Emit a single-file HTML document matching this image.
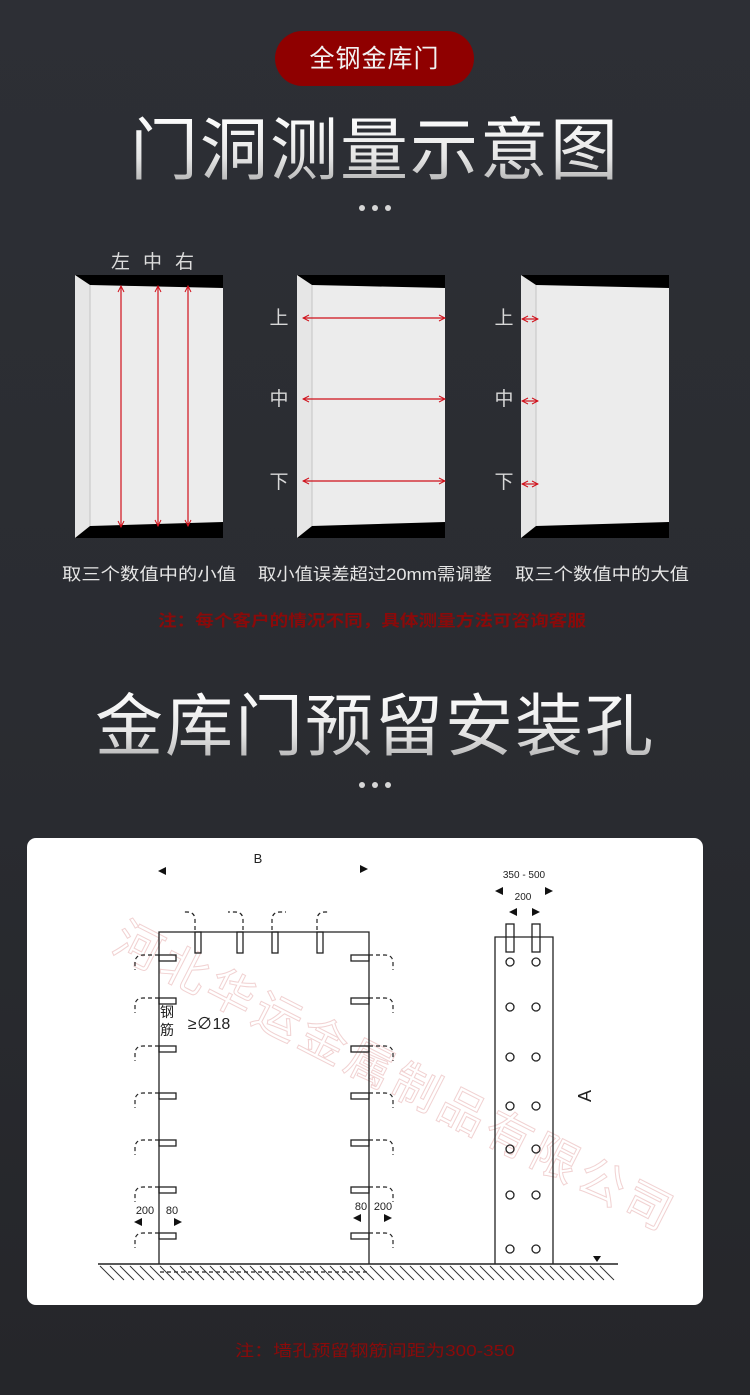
<!DOCTYPE html>
<html><head><meta charset="utf-8"><style>
html,body{margin:0;padding:0;width:750px;height:1395px;overflow:hidden;background:#2b2d33;}
svg{display:block;}
text{font-family:"Liberation Sans","Noto Sans CJK SC",sans-serif;}
</style></head><body>
<svg width="750" height="1395" viewBox="0 0 750 1395" xmlns="http://www.w3.org/2000/svg">
<defs>
<linearGradient id="bg" x1="0" y1="0" x2="0" y2="1"><stop offset="0" stop-color="#2d2f35"/><stop offset="0.5" stop-color="#2a2c31"/><stop offset="1" stop-color="#25262a"/></linearGradient>
<linearGradient id="tg" x1="0" y1="0" x2="0" y2="1"><stop offset="0" stop-color="#ffffff"/><stop offset="0.6" stop-color="#e4e4e4"/><stop offset="1" stop-color="#a9a9a9"/></linearGradient>
<g id="panel">
<rect x="0" y="0" width="148" height="263" fill="#ececec"/>
<polygon points="0,0 15,10 15,251 0,263" fill="#e6e6e6"/>
<line x1="15" y1="10" x2="15" y2="251" stroke="#c4c4c4" stroke-width="1"/>
<polygon points="0,0 148,0 148,13 60,11 15,10" fill="#000"/>
<polygon points="0,263 15,251 148,247 148,263" fill="#000"/>
</g>
<marker id="ah" markerWidth="8" markerHeight="8" refX="7" refY="4" orient="auto-start-reverse" markerUnits="userSpaceOnUse"><path d="M1,1 L7,4 L1,7" fill="none" stroke="#d0101a" stroke-width="1"/></marker>
</defs>
<rect width="750" height="1395" fill="url(#bg)"/>
<rect x="275" y="31" width="199" height="55" rx="27.5" fill="#8f0000"/>
<text x="374.5" y="67" font-size="25" fill="#f2f2f2" text-anchor="middle" letter-spacing="1">全钢金库门</text>
<text x="375" y="174" font-size="68" fill="url(#tg)" text-anchor="middle" letter-spacing="2">门洞测量示意图</text>
<g fill="#d6d6d6"><circle cx="362" cy="208" r="3"/><circle cx="375" cy="208" r="3"/><circle cx="388" cy="208" r="3"/></g>
<text x="159" y="268" font-size="19" fill="#dcdcdc" text-anchor="middle" letter-spacing="13">左中右</text>
<use href="#panel" x="75" y="275"/>
<use href="#panel" x="297" y="275"/>
<use href="#panel" x="521" y="275"/>
<g stroke="#d0101a" stroke-width="1.2" fill="none">
<line x1="121" y1="286" x2="121" y2="527" marker-start="url(#ah)" marker-end="url(#ah)"/>
<line x1="158" y1="286" x2="158" y2="526" marker-start="url(#ah)" marker-end="url(#ah)"/>
<line x1="188" y1="286" x2="188" y2="526" marker-start="url(#ah)" marker-end="url(#ah)"/>
<line x1="303" y1="318" x2="445" y2="318" marker-start="url(#ah)" marker-end="url(#ah)"/>
<line x1="303" y1="399" x2="445" y2="399" marker-start="url(#ah)" marker-end="url(#ah)"/>
<line x1="303" y1="481" x2="445" y2="481" marker-start="url(#ah)" marker-end="url(#ah)"/>
<line x1="522" y1="319" x2="538" y2="319" marker-start="url(#ah)" marker-end="url(#ah)"/>
<line x1="522" y1="401" x2="538" y2="401" marker-start="url(#ah)" marker-end="url(#ah)"/>
<line x1="522" y1="484" x2="538" y2="484" marker-start="url(#ah)" marker-end="url(#ah)"/>
</g>
<g font-size="19" fill="#d8d8d8" text-anchor="middle">
<text x="279" y="324">上</text><text x="279" y="405">中</text><text x="279" y="488">下</text>
<text x="504" y="324">上</text><text x="504" y="405">中</text><text x="504" y="488">下</text>
</g>
<g font-size="17" fill="#e6e6e6">
<text x="62" y="580" textLength="174" lengthAdjust="spacingAndGlyphs">取三个数值中的小值</text>
<text x="258" y="580" textLength="234" lengthAdjust="spacingAndGlyphs">取小值误差超过20mm需调整</text>
<text x="515" y="580" textLength="174" lengthAdjust="spacingAndGlyphs">取三个数值中的大值</text>
</g>
<text x="158" y="626" font-size="16" fill="#8a0a0a" font-weight="bold" textLength="428" lengthAdjust="spacingAndGlyphs">注：每个客户的情况不同，具体测量方法可咨询客服</text>
<text x="375" y="750" font-size="68" fill="url(#tg)" text-anchor="middle" letter-spacing="2">金库门预留安装孔</text>
<g fill="#d6d6d6"><circle cx="362" cy="785" r="3"/><circle cx="375" cy="785" r="3"/><circle cx="388" cy="785" r="3"/></g>
<rect x="27" y="838" width="676" height="467" rx="9" fill="#ffffff"/>
<text x="110" y="950" font-size="47" fill="none" stroke="#f1d2d2" stroke-width="1" transform="rotate(27 110 950)" letter-spacing="5">河北华运金属制品有限公司</text>
<g stroke="#222" stroke-width="1.3" fill="none">
<polyline points="159,1264 159,932 369,932 369,1264"/>
<rect x="195" y="932" width="6" height="21"/><rect x="237" y="932" width="6" height="21"/><rect x="272" y="932" width="6" height="21"/><rect x="317" y="932" width="6" height="21"/>
<rect x="159" y="955" width="17" height="6"/><rect x="159" y="998" width="17" height="6"/><rect x="159" y="1046" width="17" height="6"/><rect x="159" y="1093" width="17" height="6"/><rect x="159" y="1140" width="17" height="6"/><rect x="159" y="1187" width="17" height="6"/><rect x="159" y="1233" width="17" height="6"/>
<rect x="351" y="955" width="18" height="6"/><rect x="351" y="998" width="18" height="6"/><rect x="351" y="1046" width="18" height="6"/><rect x="351" y="1093" width="18" height="6"/><rect x="351" y="1140" width="18" height="6"/><rect x="351" y="1187" width="18" height="6"/><rect x="351" y="1233" width="18" height="6"/>
</g>
<g stroke="#222" stroke-width="1.2" fill="none" stroke-dasharray="4,3">
<path d="M195,930 V920 Q195,912 187,912 H182"/><path d="M243,930 V920 Q243,912 235,912 H228"/><path d="M272,930 V920 Q272,912 280,912 H286"/><path d="M317,930 V920 Q317,912 325,912 H330"/>
<path d="M159,955 H143 Q135,955 135,963 V970"/><path d="M159,998 H143 Q135,998 135,1006 V1013"/><path d="M159,1046 H143 Q135,1046 135,1054 V1061"/><path d="M159,1093 H143 Q135,1093 135,1101 V1108"/><path d="M159,1140 H143 Q135,1140 135,1148 V1155"/><path d="M159,1187 H143 Q135,1187 135,1195 V1202"/><path d="M159,1233 H143 Q135,1233 135,1241 V1248"/>
<path d="M369,955 H385 Q393,955 393,963 V970"/><path d="M369,998 H385 Q393,998 393,1006 V1013"/><path d="M369,1046 H385 Q393,1046 393,1054 V1061"/><path d="M369,1093 H385 Q393,1093 393,1101 V1108"/><path d="M369,1140 H385 Q393,1140 393,1148 V1155"/><path d="M369,1187 H385 Q393,1187 393,1195 V1202"/><path d="M369,1233 H385 Q393,1233 393,1241 V1248"/>
<line x1="160" y1="1272" x2="368" y2="1272"/>
</g>
<g stroke="#222" stroke-width="1.3" fill="none">
<polyline points="495,1264 495,937 553,937 553,1264"/>
<rect x="506" y="924" width="8" height="28"/><rect x="532" y="924" width="8" height="28"/>
<circle cx="510" cy="962" r="4"/><circle cx="536" cy="962" r="4"/>
<circle cx="510" cy="1007" r="4"/><circle cx="536" cy="1007" r="4"/>
<circle cx="510" cy="1057" r="4"/><circle cx="536" cy="1057" r="4"/>
<circle cx="510" cy="1106" r="4"/><circle cx="536" cy="1106" r="4"/>
<circle cx="510" cy="1149" r="4"/><circle cx="536" cy="1149" r="4"/>
<circle cx="510" cy="1195" r="4"/><circle cx="536" cy="1195" r="4"/>
<circle cx="510" cy="1249" r="4"/><circle cx="536" cy="1249" r="4"/>
<line x1="98" y1="1264" x2="618" y2="1264" stroke-width="1.6"/>
</g>
<g stroke="#333" stroke-width="1">
<path d="M100,1266 l14,14 M110,1266 l14,14 M120,1266 l14,14 M130,1266 l14,14 M140,1266 l14,14 M150,1266 l14,14 M160,1266 l14,14 M170,1266 l14,14 M180,1266 l14,14 M190,1266 l14,14 M200,1266 l14,14 M210,1266 l14,14 M220,1266 l14,14 M230,1266 l14,14 M240,1266 l14,14 M250,1266 l14,14 M260,1266 l14,14 M270,1266 l14,14 M280,1266 l14,14 M290,1266 l14,14 M300,1266 l14,14 M310,1266 l14,14 M320,1266 l14,14 M330,1266 l14,14 M340,1266 l14,14 M350,1266 l14,14 M360,1266 l14,14 M370,1266 l14,14 M380,1266 l14,14 M390,1266 l14,14 M400,1266 l14,14 M410,1266 l14,14 M420,1266 l14,14 M430,1266 l14,14 M440,1266 l14,14 M450,1266 l14,14 M460,1266 l14,14 M470,1266 l14,14 M480,1266 l14,14 M490,1266 l14,14 M500,1266 l14,14 M510,1266 l14,14 M520,1266 l14,14 M530,1266 l14,14 M540,1266 l14,14 M550,1266 l14,14 M560,1266 l14,14 M570,1266 l14,14 M580,1266 l14,14 M590,1266 l14,14 M600,1266 l14,14"/>
</g>
<g fill="#111">
<polygon points="158,871 166,867 166,875"/><polygon points="368,869 360,865 360,873"/>
<polygon points="495,891 503,887 503,895"/><polygon points="553,891 545,887 545,895"/>
<polygon points="509,912 517,908 517,916"/><polygon points="540,912 532,908 532,916"/>
<polygon points="134,1222 142,1218 142,1226"/><polygon points="182,1222 174,1218 174,1226"/>
<polygon points="353,1218 361,1214 361,1222"/><polygon points="392,1218 384,1214 384,1222"/>
<polygon points="593,1256 601,1256 597,1262"/>
</g>
<g fill="#222" text-anchor="middle">
<text x="258" y="863" font-size="13">B</text>
<text x="524" y="878" font-size="10">350 - 500</text>
<text x="523" y="900" font-size="10">200</text>
<text x="145" y="1214" font-size="11">200</text><text x="172" y="1214" font-size="11">80</text>
<text x="361" y="1210" font-size="11">80</text><text x="383" y="1210" font-size="11">200</text>
<text x="167" y="1017" font-size="14">钢</text><text x="167" y="1035" font-size="14">筋</text>
<text x="209" y="1029" font-size="16">≥∅18</text>
<text x="595" y="1100" font-size="18" transform="rotate(-90 591 1100)">A</text>
</g>
<text x="235" y="1356" font-size="16" fill="#8a0a0a" textLength="280" lengthAdjust="spacingAndGlyphs">注：墙孔预留钢筋间距为300-350</text>
</svg>
</body></html>
